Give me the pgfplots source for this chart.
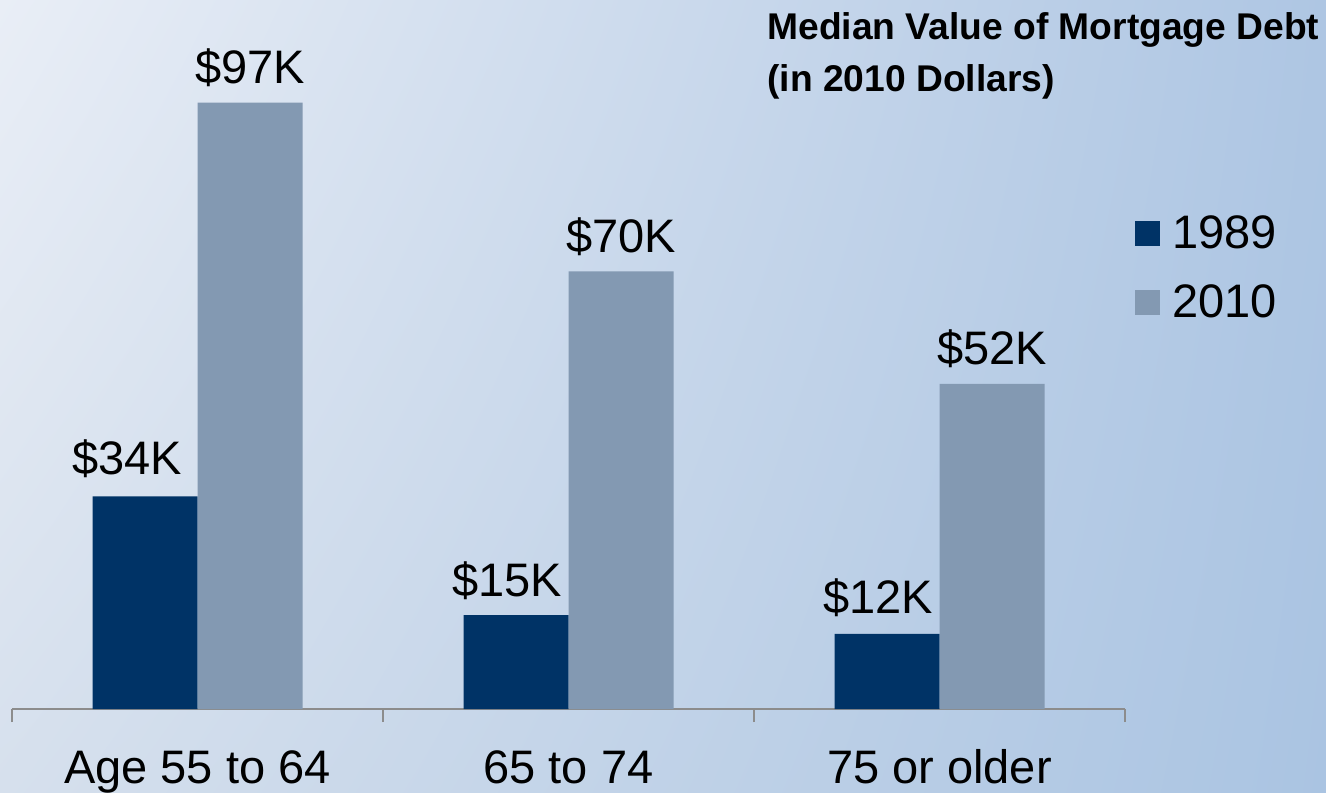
\documentclass[border=0pt]{standalone}
\usepackage{fontspec}
\setmainfont{Liberation Sans}
\usepackage{pgfplots}
\usepackage{pgfplotstable}
\pgfplotsset{compat=1.18}
\usetikzlibrary{shadings}
\definecolor{navy}{HTML}{003366}
\definecolor{steel}{HTML}{8399B2}
\definecolor{axisgray}{HTML}{8C8C8C}
\definecolor{bgul}{HTML}{E9EEF6}
\definecolor{bgll}{HTML}{D6E0ED}
\definecolor{bgur}{HTML}{AEC6E3}
\definecolor{bglr}{HTML}{AAC4E2}
\pgfplotstableread{
x y dx dy
0 34 -9 11
1 15 -4.5 9.5
2 12 -4.5 10
}\dataA
\pgfplotstableread{
x y dx dy
0 97 0 9.5
1 70 0 9.5
2 52 0 9.5
}\dataB
\begin{document}
\begin{tikzpicture}
\shade[upper left=bgul, lower left=bgll, upper right=bgur, lower right=bglr] (0,0) rectangle (663pt,396pt);
\begin{axis}[
  at={(6pt,41.5pt)}, anchor=south west, scale only axis,
  width=556.5pt, height=312.5pt,
  xmin=-0.5, xmax=2.5, ymin=0, ymax=100,
  ybar=0pt, bar width=52.5pt,
  axis y line=none,
  axis x line*=bottom,
  axis line style={axisgray, line width=0.75pt},
  xtick={0,1,2}, xticklabels={Age 55 to 64, 65 to 74, 75 or older},
  major tick length=0pt,
  extra x ticks={-0.5,0.5,1.5,2.5}, extra x tick labels={},
  extra x tick style={major tick length=6.5pt, tick align=outside, tick style={axisgray, line width=0.75pt}},
  xticklabel style={anchor=base, yshift=-37pt, font=\fontsize{23.5}{28}\selectfont, text=black},
  nodes near coords={\$\pgfmathprintnumber[assume math mode=true]{\pgfplotspointmeta}K},
  point meta=y,
  visualization depends on={\thisrow{dx} \as \dx},
  visualization depends on={\thisrow{dy} \as \dy},
  every node near coord/.append style={anchor=base, xshift=\dx pt, yshift=\dy pt, font=\fontsize{23.5}{28}\selectfont, text=black},
  legend style={at={(axis description cs:1.009,0.789)}, anchor=north west, draw=none, fill=none,
    inner sep=0pt, outer sep=0pt, row sep=16.3pt, column sep=6pt,
    nodes={inner sep=0pt, font=\fontsize{23.5}{28}\selectfont, text=black}},
  legend cell align=left,
  sqlegend/.style={legend image code/.code={\fill[##1] (0pt,-6.25pt) rectangle (12.5pt,6.25pt);}},
  clip=false,
]
\addplot[fill=navy, draw=none, sqlegend] table[x=x, y=y] {\dataA};
\addplot[fill=steel, draw=none, sqlegend] table[x=x, y=y] {\dataB};
\legend{1989,2010}
\end{axis}
\node[anchor=base west, font=\fontsize{18.6}{22}\selectfont\bfseries, inner sep=0pt] at (383.5pt,376pt) {Median Value of Mortgage Debt};
\node[anchor=base west, font=\fontsize{18.6}{22}\selectfont\bfseries, inner sep=0pt] at (383.5pt,350pt) {(in 2010 Dollars)};
\pgfresetboundingbox
\useasboundingbox (0,0) rectangle (663pt,396pt);
\end{tikzpicture}
\end{document}
